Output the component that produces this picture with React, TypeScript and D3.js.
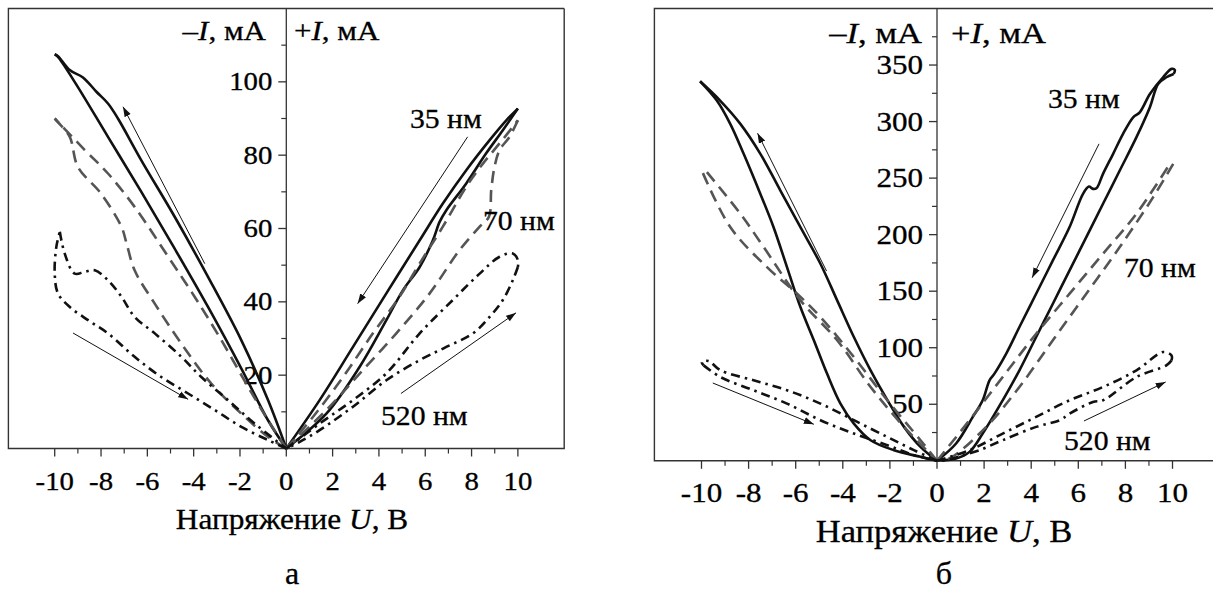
import * as d3 from "d3";
import React from "react";

// ---- data: [U (V), |I| (mA)] ----
// panel a
const a35Neg1 = [[0, 0], [-0.79, 7.7], [-1.94, 21.8], [-3.38, 38.6], [-4.82, 54.5], [-6.26, 70], [-7.7, 85], [-9.14, 100], [-9.86, 106.8], [-10, 107.5]];
const a35Neg2 = [[-10, 107.5], [-9.86, 107], [-9.35, 103.2], [-8.78, 101.2], [-8.2, 97.3], [-7.7, 94.1], [-7.27, 90], [-6.26, 78.6], [-4.82, 63.2], [-3.38, 46.8], [-1.94, 29.5], [-0.79, 13.2], [0, 0]];
const a35Pos1 = [[0, 0], [1.44, 13.2], [2.88, 27.7], [4.32, 42.3], [5.76, 56.8], [6.76, 66.8], [7.77, 75.9], [8.78, 84.1], [9.5, 89.5], [10, 92.7]];
const a35Pos2 = [[10, 92.7], [9.35, 86.8], [8.63, 80.5], [7.77, 72.3], [6.91, 65], [6.62, 61.8], [6.33, 56.8], [5.76, 49.5], [5.04, 43.2], [4.32, 35], [3.17, 22.3], [1.73, 9.5], [0, 0]];
const a70Neg1 = [[0, 0], [-0.79, 7.7], [-1.65, 16.8], [-2.8, 29.5], [-3.96, 41.4], [-5.1, 52.3], [-6.55, 65.9], [-7.7, 75], [-8.7, 81.4], [-10, 90]];
const a70Neg2 = [[-10, 90], [-9.86, 89], [-9.35, 85], [-9, 76.8], [-8, 69.5], [-7.12, 60.5], [-6.9, 56], [-6.55, 48.6], [-5.68, 39.5], [-4.53, 28.6], [-3.24, 17.7], [-1.94, 9.5], [-0.79, 3.2], [0, 0]];
const a70Pos1 = [[0, 0], [1.15, 8.6], [2.45, 19.5], [3.74, 31.4], [4.89, 41.4], [5.76, 50.5], [6.76, 60.5], [7.77, 71.4], [8.49, 77.7], [9.21, 83.2], [10, 89.5]];
const a70Pos2 = [[10, 89.5], [9.64, 85], [9.21, 81.4], [8.99, 76.8], [8.85, 70.5], [8.75, 63.2], [8.35, 60.5], [7.48, 54.1], [6.19, 42.3], [4.75, 31.4], [3.31, 21.4], [1.73, 10.5], [0, 0]];
const a520Neg1 = [[0, 0], [-0.79, 2.3], [-1.94, 5.9], [-3.09, 10.5], [-4.24, 15], [-5.4, 19.5], [-6.55, 25], [-7.7, 31.4], [-8.56, 35], [-9.35, 38.6], [-9.86, 42.3], [-10, 47.7], [-9.93, 55], [-9.78, 59.1]];
const a520Neg2 = [[-9.78, 59.1], [-9.57, 53.2], [-9.14, 47.7], [-8.7, 48.2], [-8.27, 48.6], [-7.7, 45.9], [-7.12, 41.4], [-6.55, 35.9], [-5.68, 31.4], [-4.53, 25], [-3.67, 19.5], [-2.52, 13.2], [-1.37, 6.8], [0, 0]];
const a520Pos1 = [[0, 0], [1.44, 6.8], [2.88, 13.2], [4.32, 20.5], [5.76, 31.4], [7.19, 40.5], [8.35, 47.7], [9.21, 52.3], [9.78, 53.2], [10, 51.4], [10, 49.5]];
const a520Pos2 = [[10, 49.5], [9.78, 45.9], [9.35, 40.5], [8.78, 35.9], [8.06, 31.4], [6.91, 27.7], [5.76, 24.1], [4.32, 18.6], [2.88, 11.4], [1.44, 5], [0.58, 1.8], [0, 0]];

// panel b
const b35Neg1 = [[0, 0], [-0.7, 3.5], [-1.83, 9.4], [-2.82, 18.2], [-3.53, 32.9], [-4.1, 50.6], [-4.67, 77.1], [-5.23, 106.6], [-5.8, 136], [-6.37, 171.3], [-6.94, 206.6], [-7.5, 236], [-8.21, 271.5], [-8.78, 298], [-9.35, 318.6], [-10.06, 335.6]];
const b35Neg2 = [[-10.06, 335.6], [-9.21, 318.6], [-8.35, 298], [-7.5, 271.5], [-6.65, 239], [-5.8, 206.6], [-4.95, 174.3], [-4.24, 141.9], [-3.53, 109.5], [-2.82, 80], [-2.1, 53.5], [-1.4, 30], [-0.7, 12.3], [0, 0]];
const b35Pos1 = [[0, 0], [0.81, 15.3], [1.52, 38.8], [1.94, 53.5], [2.23, 71.2], [2.44, 77.1], [2.94, 94.8], [3.5, 118.3], [4.21, 147.7], [4.92, 177.2], [5.63, 206.7], [6.2, 236.1], [6.45, 242.5], [6.62, 240.5], [6.77, 241], [7.05, 253.8], [7.48, 271.5], [7.9, 289.1], [8.33, 303.8], [8.61, 308.2], [9.04, 324.4], [9.6, 339.2], [9.96, 346.6], [10.1, 345.5], [10.05, 342.1]];
const b35Pos2 = [[10.05, 342.1], [9.74, 339.2], [9.39, 333.3], [9.04, 312.7], [8.47, 286.2], [7.76, 256.7], [7.05, 227.3], [6.34, 197.8], [5.63, 168.4], [4.92, 138.9], [4.21, 109.5], [3.5, 80], [2.79, 53.5], [1.94, 24.1], [1.38, 7.9], [0.81, 2], [0, 0]];
const b70Neg1 = [[0, 0], [-0.7, 18.2], [-2.11, 53.5], [-3.53, 91.8], [-4.95, 127.2], [-5.94, 147.8], [-7.22, 171.3], [-8.78, 206.7], [-9.99, 256.8]];
const b70Neg2 = [[-9.77, 255.3], [-8.35, 218.5], [-7.36, 189], [-5.8, 141.9], [-4.24, 106.6], [-2.82, 65.3], [-1.4, 30], [0, 0]];
const b70Pos1 = [[0, 0], [1.38, 35.9], [2.79, 74.1], [4.21, 112.4], [5.63, 147.8], [7.05, 183.1], [8.47, 218.5], [9.89, 262.7]];
const b70Pos2 = [[10.03, 262.6], [9.18, 233.2], [7.76, 189], [6.34, 147.8], [4.92, 106.6], [3.5, 65.3], [2.09, 30], [0.52, 2], [0, 0]];
const b520Neg1 = [[0, 0], [-0.98, 9.4], [-2.11, 21.1], [-3.53, 35.9], [-4.95, 50.6], [-6.37, 62.4], [-7.79, 71.2], [-9.2, 80.1], [-9.7, 88.3], [-9.99, 87.4], [-9.91, 84.4]];
const b520Neg2 = [[-9.91, 84.4], [-9.2, 74.1], [-7.79, 62.4], [-6.37, 50.6], [-4.95, 35.9], [-3.53, 24.1], [-2.11, 13.8], [-0.98, 5], [0, 0]];
const b520Pos1 = [[0, 0], [1.38, 9.4], [2.79, 24.1], [4.21, 38.8], [5.63, 53.5], [7.05, 65.3], [8.47, 80], [9.6, 96.2], [9.96, 93.2], [9.96, 88.8]];
const b520Pos2 = [[9.96, 88.8], [9.74, 84.4], [8.47, 74.1], [7.05, 53.5], [6.62, 52], [5.63, 41.7], [5.21, 35.9], [4.21, 30], [2.79, 18.2], [1.8, 9.4], [1.09, 4.9], [0.52, 1.1], [0, 0]];

// arrows: [from, to]
const aArrows = [[[-3.52, 50.4], [-7.05, 93.2]], [[-9.21, 31.5], [-4.24, 13.4]], [[7.83, 85], [3.08, 39.5]], [[4.95, 15], [9.92, 37]]];
const bArrows = [[[-4.69, 167.8], [-7.62, 289.7]], [[-9.52, 68.8], [-5.23, 32.3]], [[6.88, 280.3], [4.04, 161.9]], [[6.24, 35.2], [9.71, 69.7]]];

const xMajor = [-10, -8, -6, -4, -2, 0, 2, 4, 6, 8, 10];
const xMinor = [-9, -7, -5, -3, -1, 1, 3, 5, 7, 9];
const aYMajor = [20, 40, 60, 80, 100];
const aYMinor = [10, 30, 50, 70, 90, 110];
const bYMajor = [50, 100, 150, 200, 250, 300, 350];
const bYMinor = [25, 75, 125, 175, 225, 275, 325, 375];

const thicknesses = ["35 нм", "70 нм", "520 нм"];

const FONT = '"Liberation Serif", "Times New Roman", Tinos, "DejaVu Serif", serif';
const SX = 1.15;

const styles = {
  s35: { stroke: "#111", dash: null },
  s70: { stroke: "#555", dash: "12,7" },
  s520: { stroke: "#111", dash: "9,5,2.5,5" },
};

const Txt = ({ x, y, size, anchor = "start", sx = SX, children }) => (
  <g transform={`translate(${x},${y}) scale(${sx},1)`}>
    <text x={0} y={0} style={{ fontFamily: FONT, fontSize: size }} textAnchor={anchor} fill="#000"
      stroke="#000" strokeWidth={0.3}>
      {children}
    </text>
  </g>
);

const Panel = ({ id, xRange, yDomain, yRange, yMajor, yMinor, curves, arrows, notes, unitY, letter, letterY, titleX, titleY, labelY, fs }) => {
  const x = d3.scaleLinear().domain([-12, 12]).range(xRange);
  const y = d3.scaleLinear().domain(yDomain).range(yRange);
  const line = d3.line().x((d) => x(d[0])).y((d) => y(d[1])).curve(d3.curveCatmullRom.alpha(0.5));
  const x0 = x(0);
  const bottom = y(yDomain[0]);
  const top = y(yDomain[1]);
  return (
    <g>
      <defs>
        <marker id={"arr" + id} viewBox="0 0 10 8" refX="10" refY="4" markerWidth="10" markerHeight="8" markerUnits="userSpaceOnUse" orient="auto">
          <path d="M0,0.6 L10,4 L0,7.4 Z" fill="#111" />
        </marker>
      </defs>
      {/* frame */}
      <path d={`M${xRange[1]},${top} L${xRange[0]},${top} L${xRange[0]},${bottom} L${xRange[1]},${bottom} L${xRange[1]},${top}`} fill="none" stroke="#333" strokeWidth={1.4} />
      <line x1={x0} x2={x0} y1={top} y2={bottom} stroke="#333" strokeWidth={1.3} />
      {/* x ticks */}
      {xMajor.map((v) => (
        <g key={"xM" + v}>
          <line x1={x(v)} x2={x(v)} y1={bottom} y2={bottom + 8} stroke="#333" strokeWidth={1.3} />
          <Txt x={x(v)} y={labelY} size={fs.tick} anchor="middle">{v}</Txt>
        </g>
      ))}
      {xMinor.map((v) => (
        <line key={"xm" + v} x1={x(v)} x2={x(v)} y1={bottom} y2={bottom + 5} stroke="#333" strokeWidth={1.2} />
      ))}
      {/* y ticks */}
      {yMajor.map((v) => (
        <g key={"yM" + v}>
          <line x1={x0 - 8} x2={x0} y1={y(v)} y2={y(v)} stroke="#333" strokeWidth={1.3} />
          <Txt x={x0 - 14} y={y(v) + fs.tick * 0.34} size={fs.tick} anchor="end">{v}</Txt>
        </g>
      ))}
      {yMinor.map((v) => (
        <line key={"ym" + v} x1={x0 - 5} x2={x0} y1={y(v)} y2={y(v)} stroke="#333" strokeWidth={1.2} />
      ))}
      {/* curves */}
      {curves.map((c, i) => (
        <path key={"c" + i} d={line(c.data)} fill="none" stroke={styles[c.style].stroke} strokeWidth={2.6}
          strokeDasharray={styles[c.style].dash || undefined} strokeLinejoin="round" />
      ))}
      {arrows.map((a, i) => (
        <line key={"a" + i} x1={x(a[0][0])} y1={y(a[0][1])} x2={x(a[1][0])} y2={y(a[1][1])} stroke="#111" strokeWidth={1} markerEnd={`url(#arr${id})`} />
      ))}
      {notes.map((n, i) => (
        <Txt key={"n" + i} x={n.x} y={n.y} size={27} sx={1.1}>{thicknesses[i]}</Txt>
      ))}
      {/* axis units */}
      <Txt x={unitY.left} y={unitY.y} size={fs.unit} anchor="end">
        –<tspan fontStyle="italic">I</tspan>, мА
      </Txt>
      <Txt x={unitY.right} y={unitY.y} size={fs.unit}>
        +<tspan fontStyle="italic">I</tspan>, мА
      </Txt>
      <Txt x={titleX} y={titleY} size={fs.title} anchor="middle" sx={1.08}>
        Напряжение <tspan fontStyle="italic">U</tspan>, В
      </Txt>
      <Txt x={titleX} y={letterY} size={32} anchor="middle" sx={1}>{letter}</Txt>
    </g>
  );
};

const mk = (list) => list.map(([data, style]) => ({ data, style }));

const aCurves = mk([
  [a35Neg1, "s35"], [a35Neg2, "s35"], [a35Pos1, "s35"], [a35Pos2, "s35"],
  [a70Neg1, "s70"], [a70Neg2, "s70"], [a70Pos1, "s70"], [a70Pos2, "s70"],
  [a520Neg1, "s520"], [a520Neg2, "s520"], [a520Pos1, "s520"], [a520Pos2, "s520"],
]);
const bCurves = mk([
  [b35Neg1, "s35"], [b35Neg2, "s35"], [b35Pos1, "s35"], [b35Pos2, "s35"],
  [b70Neg1, "s70"], [b70Neg2, "s70"], [b70Pos1, "s70"], [b70Pos2, "s70"],
  [b520Neg1, "s520"], [b520Neg2, "s520"], [b520Pos1, "s520"], [b520Pos2, "s520"],
]);

export default function App() {
  return (
    <svg width={1213} height={590} style={{ position: "absolute", left: 0, top: 0, background: "#fff" }}>
      <rect width={1213} height={590} fill="#fff" />
      <Panel id="a" xRange={[8.4, 564.2]} yDomain={[0, 120]} yRange={[448.5, 8.5]}
        yMajor={aYMajor} yMinor={aYMinor} curves={aCurves} arrows={aArrows}
        notes={[{ x: 410, y: 128 }, { x: 483, y: 230 }, { x: 381, y: 425 }]}
        unitY={{ left: 266, right: 294, y: 40 }} letter="а" letterY={584}
        titleX={292} titleY={529} labelY={490} fs={{ tick: 25, unit: 27, title: 29 }} />
      <Panel id="b" xRange={[654.4, 1219.6]} yDomain={[0, 400]} yRange={[460.8, 8.5]}
        yMajor={bYMajor} yMinor={bYMinor} curves={bCurves} arrows={bArrows}
        notes={[{ x: 1048, y: 108 }, { x: 1124, y: 277 }, { x: 1064, y: 450 }]}
        unitY={{ left: 922, right: 951, y: 43 }} letter="б" letterY={584}
        titleX={944} titleY={542} labelY={502} fs={{ tick: 27, unit: 30, title: 32 }} />
    </svg>
  );
}
